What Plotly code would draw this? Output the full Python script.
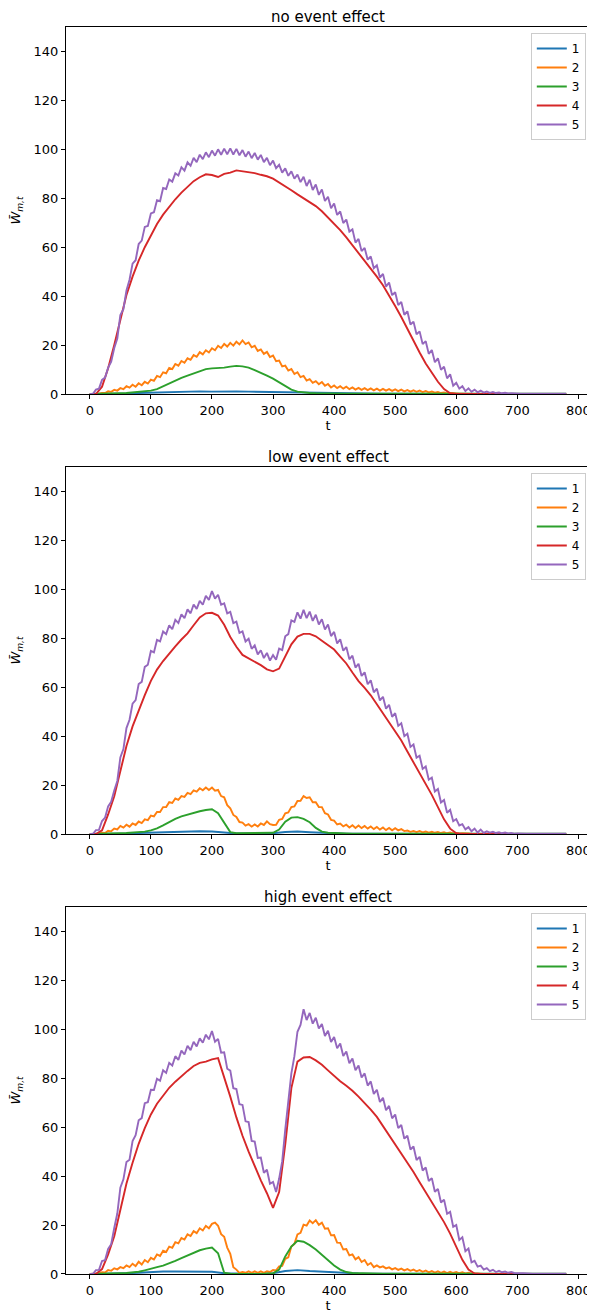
import plotly.graph_objects as go
from plotly.subplots import make_subplots

# time grids
t5 = list(range(0, 785, 5))
t10 = list(range(0, 790, 10))
t20 = list(range(0, 790, 20))

series_names = ['1', '2', '3', '4', '5']
colors = ['#1f77b4', '#ff7f0e', '#2ca02c', '#d62728', '#9467bd']
titles = ['no event effect', 'low event effect', 'high event effect']

# ---- no event effect ----
no_w1 = [0, 0, 0.1, 0.2, 0.4, 0.6, 0.8, 0.9, 1.0, 1.1, 1.0, 1.2, 1.1, 1.0, 0.9, 0.9, 0.7, 0.5, 0.4, 0.3,
         0.2, 0.2, 0.1, 0.1, 0.1, 0.1, 0.05, 0, 0, 0, 0, 0, 0, 0, 0, 0, 0, 0, 0, 0]
no_w2 = [0, 0, 0, 0.1, 0.4, 0.4, 1.1, 0.9, 1.7, 1.4, 2.4, 2.0, 3.2, 2.6, 3.8, 3.0, 4.4, 3.6, 5.0, 4.3,
         5.9, 5.4, 7.4, 6.9, 8.9, 8.5, 10.7, 10.2, 12.3, 11.6, 13.5, 12.8, 14.6, 14.0, 15.9, 15.2, 17.1, 16.2, 17.9, 17.0,
         18.7, 17.9, 19.7, 18.8, 20.5, 19.4, 20.9, 19.8, 21.4, 20.3, 21.9, 20.4, 21.1, 19.1, 19.7, 17.6, 18.2, 16.4, 17.2, 15.1,
         15.7, 13.4, 13.7, 11.3, 11.6, 9.6, 10.2, 8.2, 8.9, 6.9, 7.4, 5.5, 6.1, 4.6, 5.3, 4.0, 4.9, 3.4, 4.1, 2.7,
         3.5, 2.4, 3.2, 2.2, 3.0, 2.0, 2.7, 1.8, 2.5, 1.7, 2.4, 1.6, 2.3, 1.5, 2.2, 1.4, 2.1, 1.4, 2.0, 1.3,
         1.9, 1.2, 1.8, 1.1, 1.6, 1.0, 1.5, 0.9, 1.4, 0.8, 1.2, 0.7, 1.0, 0.6, 0.8, 0.4, 0.6, 0.3, 0.4, 0.2,
         0.3, 0.1, 0.15, 0.05, 0.1, 0, 0, 0, 0, 0, 0, 0, 0, 0, 0, 0, 0, 0, 0, 0,
         0, 0, 0, 0, 0, 0, 0, 0, 0, 0, 0, 0, 0, 0, 0, 0, 0]
no_w3 = [0, 0, 0, 0.1, 0.2, 0.3, 0.4, 0.6, 0.8, 1.1, 1.4, 2.0, 3.2, 4.5, 5.7, 6.6, 7.5, 8.5, 9.5, 10.2,
         10.5, 10.6, 10.8, 11.2, 11.5, 11.3, 10.8, 9.8, 8.5, 7.5, 6.3, 4.8, 3.2, 1.8, 1.0, 0.6, 0.4, 0.3, 0.2, 0.2,
         0.1, 0.1, 0.1, 0.1, 0.1, 0.1, 0.1, 0.1, 0.1, 0.1, 0.1, 0.1, 0.1, 0.1, 0.1, 0.1, 0.1, 0.1, 0.1, 0.1,
         0.1, 0.1, 0.1, 0.1, 0.1, 0.1, 0.1, 0.1, 0.1, 0.1, 0.1, 0.1, 0.1, 0.1, 0.1, 0.1, 0.1, 0.1, 0.1]
no_w4 = [0, 0, 3, 10.5, 20, 30.5, 40.5, 48, 54.5, 60, 65, 69.5, 73.3, 76.6, 79.6, 82.3, 84.8, 87, 88.6, 89.8,
         89.5, 88.7, 90, 90.5, 91.4, 91, 90.8, 90.3, 89.6, 89, 88, 86.5, 85, 83.3, 81.6, 80, 78.5, 76.8, 74.7, 72.2,
         69.5, 67, 64, 60.8, 57.6, 54.5, 51.4, 48, 44.5, 40.5, 36, 31.5, 26.5, 21.7, 17, 12.5, 8.5, 5, 2, 0.3,
         0, 0, 0, 0, 0, 0, 0, 0, 0, 0, 0, 0, 0, 0, 0, 0, 0, 0, 0]
no_w5 = [0, 0, 1.8, 2.2, 5.8, 6.7, 10.8, 13.2, 18.8, 22.7, 32.3, 34.7, 42.3, 46.7, 53.3, 54.7, 61.3, 62.7, 68.3, 68.7,
         73.8, 74.3, 79.2, 78.8, 84.2, 83.8, 87.7, 86.8, 90.2, 89.3, 92.7, 91.3, 94.7, 93.3, 96.5, 94.8, 97.8, 96.0, 98.8, 96.8,
         99.5, 97.4, 100.0, 97.8, 100.3, 98.0, 100.4, 97.9, 100.2, 97.6, 99.7, 97.0, 99.1, 96.4, 98.5, 95.8, 97.7, 94.8, 96.5, 93.5,
         95.4, 92.3, 93.7, 90.5, 92.2, 89.2, 91.0, 88.0, 89.7, 86.6, 88.8, 85.0, 87.6, 83.4, 85.6, 81.4, 83.6, 78.9, 80.6, 75.9,
         77.9, 73.2, 74.6, 69.9, 71.3, 66.4, 67.3, 61.9, 63.4, 58.4, 59.7, 54.9, 56.2, 51.4, 52.6, 47.6, 49.1, 43.9, 45.6, 40.4,
         41.6, 36.4, 37.6, 32.4, 33.8, 28.4, 29.6, 24.4, 25.6, 20.4, 21.6, 16.4, 18.0, 13.0, 14.6, 9.9, 11.2, 6.4, 8.1, 3.4,
         4.6, 2.2, 3.2, 1.2, 2.3, 0.9, 1.8, 0.7, 1.4, 0.6, 1.0, 0.5, 0.8, 0.4, 0.6, 0.3, 0.5, 0.25, 0.35, 0.2,
         0.25, 0.1, 0.1, 0.1, 0.1, 0.1, 0.1, 0.1, 0.1, 0.1, 0.1, 0.1, 0.1, 0.1, 0.1, 0.1, 0.1]

# ---- low event effect ----
low_w1 = [0, 0, 0.1, 0.2, 0.4, 0.6, 0.8, 0.9, 1.0, 1.1, 1.0, 0.6, 0.2, 0.2, 0.2, 0.3, 0.8, 1.0, 0.7, 0.4,
          0.2, 0.1, 0.1, 0.1, 0.1, 0.05, 0, 0, 0, 0, 0, 0, 0, 0, 0, 0, 0, 0, 0, 0]
low_w2 = [0, 0, 0, 0.1, 0.5, 0.4, 1.3, 1.1, 2.2, 1.9, 3.3, 2.6, 3.8, 3.0, 4.3, 3.7, 5.1, 4.5, 6.0, 5.7,
          7.5, 7.2, 9.0, 9.0, 11.0, 11.0, 13.0, 12.7, 14.5, 14.0, 15.5, 15.2, 16.8, 16.3, 17.8, 17.3, 18.7, 17.9, 19.0, 18.0,
          19.0, 17.7, 18.0, 15.5, 15.0, 11.8, 10.5, 7.8, 7.0, 4.9, 4.7, 3.4, 4.0, 3.0, 3.9, 3.1, 4.3, 3.7, 5.2, 4.0,
          3.7, 3.8, 5.8, 6.2, 8.5, 8.8, 11.0, 11.3, 13.5, 13.6, 15.5, 14.7, 15.0, 13.0, 13.0, 11.0, 11.0, 8.5, 8.0, 5.8,
          5.5, 3.9, 4.3, 3.1, 3.8, 2.7, 3.6, 2.5, 3.5, 2.4, 3.3, 2.2, 3.1, 2.0, 2.9, 1.8, 2.7, 1.6, 2.5, 1.5,
          2.4, 1.5, 2.0, 1.2, 1.4, 0.9, 1.2, 0.8, 1.2, 0.7, 1.0, 0.6, 0.9, 0.5, 0.8, 0.4, 0.7, 0.3, 0.6, 0.2,
          0.4, 0.15, 0.3, 0.1, 0.2, 0.05, 0.1, 0, 0, 0, 0, 0, 0, 0, 0, 0, 0, 0, 0, 0,
          0, 0, 0, 0, 0, 0, 0, 0, 0, 0, 0, 0, 0, 0, 0, 0, 0]
low_w3 = [0, 0, 0, 0.1, 0.2, 0.3, 0.4, 0.6, 0.8, 1.0, 1.5, 2.3, 3.5, 5, 6.2, 7.2, 8, 8.6, 9.3, 9.8,
          10.1, 8.5, 4.5, 0.8, 0.3, 0.3, 0.3, 0.3, 0.3, 0.4, 0.5, 1.8, 5, 6.7, 6.9, 6.2, 4.8, 2.5, 1.0, 0.5,
          0.3, 0.2, 0.2, 0.1, 0.1, 0.1, 0.1, 0.1, 0.1, 0.1, 0.1, 0.1, 0.1, 0.1, 0.1, 0.1, 0.1, 0.1, 0.1, 0.1,
          0.1, 0.1, 0.1, 0.1, 0.1, 0.1, 0.1, 0.1, 0.1, 0.1, 0.1, 0.1, 0.1, 0.1, 0.1, 0.1, 0.1, 0.1, 0.1]
low_w4 = [0, 0, 1.5, 8, 15.4, 26, 36, 44, 50.5, 56.8, 62.6, 67.2, 70.7, 73.8, 76.7, 79.5, 82, 85.3, 88.5, 90.2,
          90.4, 89.3, 85.5, 80.5, 76.5, 73.2, 71.8, 70.5, 69, 67.3, 66.5, 67.6, 72.5, 77.5, 80.7, 81.8, 81.8, 80.8, 79, 77.2,
          75.4, 72.5, 69.7, 66, 62.5, 59.7, 56.7, 53, 49.3, 45.5, 42, 38.2, 33.7, 29.3, 25, 20.8, 16, 11, 6, 2.2,
          0.3, 0, 0, 0, 0, 0, 0, 0, 0, 0, 0, 0, 0, 0, 0, 0, 0, 0, 0]
low_w5 = [0, 0, 1.6, 1.7, 5.3, 6.7, 11.3, 13.2, 17.8, 21.7, 31.3, 34.7, 43.3, 46.7, 53.3, 54.7, 61.3, 62.2, 68.3, 69.2,
          74.8, 74.2, 79.3, 78.7, 82.8, 81.7, 85.3, 83.7, 87.5, 86.2, 89.8, 88.2, 91.8, 90.2, 93.8, 92.0, 95.3, 93.7, 97.3, 95.7,
          99.3, 96.2, 97.8, 93.7, 94.3, 90.2, 90.8, 86.2, 86.8, 82.2, 82.8, 78.7, 79.8, 75.7, 77.1, 73.4, 75.1, 71.9, 74.0, 70.9,
          73.1, 71.2, 75.8, 75.2, 80.8, 81.7, 87.3, 86.7, 90.6, 88.0, 91.6, 88.2, 90.9, 87.1, 89.6, 85.6, 87.8, 83.6, 85.6, 80.9,
          82.6, 77.9, 79.6, 74.9, 76.4, 71.4, 72.9, 68.0, 69.6, 64.6, 66.1, 61.2, 62.8, 57.9, 59.4, 54.6, 56.1, 51.2, 52.8, 47.9,
          49.4, 44.2, 45.3, 40.0, 41.0, 35.6, 36.6, 31.2, 32.0, 26.6, 27.6, 22.2, 23.1, 17.4, 18.4, 12.9, 13.9, 8.7, 9.9, 5.2,
          6.1, 3.5, 4.0, 1.9, 2.8, 1.1, 2.2, 0.6, 1.8, 0.5, 1.1, 0.6, 0.9, 0.4, 0.7, 0.3, 0.6, 0.2, 0.4, 0.15,
          0.25, 0.1, 0.1, 0.1, 0.1, 0.1, 0.1, 0.1, 0.1, 0.1, 0.1, 0.1, 0.1, 0.1, 0.1, 0.1, 0.1]

# ---- high event effect ----
high_w1 = [0, 0, 0.1, 0.3, 0.5, 0.8, 1.0, 1.0, 1.0, 1.0, 0.9, 0.3, 0.1, 0.1, 0.1, 0.3, 1.2, 1.6, 1.2, 0.9,
           0.6, 0.4, 0.2, 0.1, 0.1, 0.1, 0.05, 0, 0, 0, 0, 0, 0, 0, 0, 0, 0, 0, 0, 0]
high_w2 = [0, 0, 0.1, 0.2, 0.7, 0.6, 1.6, 1.3, 2.3, 1.9, 2.8, 2.4, 3.5, 2.8, 4.2, 3.2, 5.0, 3.9, 5.7, 4.8,
           6.6, 5.9, 8.0, 7.4, 9.5, 9.0, 11.2, 10.7, 13.0, 12.5, 14.7, 14.1, 16.2, 15.5, 17.5, 16.7, 18.7, 17.8, 19.7, 18.7,
           20.5, 21.0, 19.7, 16.3, 15.2, 10.8, 8.2, 2.8, 1.8, 0.4, 0.8, 0.5, 1.1, 0.5, 1.1, 0.5, 1.1, 0.5, 1.1, 0.8,
           1.6, 1.5, 3.1, 3.3, 6.2, 6.8, 11.2, 12.3, 16.2, 16.8, 20.2, 19.8, 21.9, 20.8, 22.0, 20.1, 21.0, 18.5, 18.7, 15.8,
           15.9, 12.8, 12.7, 10.0, 10.2, 7.6, 8.0, 6.0, 6.9, 4.9, 5.7, 3.7, 4.5, 2.8, 3.5, 2.7, 3.1, 2.3, 2.7, 1.9,
           2.4, 1.7, 2.2, 1.5, 2.0, 1.3, 1.8, 1.1, 1.6, 0.9, 1.4, 0.7, 1.2, 0.6, 1.1, 0.5, 1.0, 0.4, 0.9, 0.4,
           0.8, 0.3, 0.7, 0.2, 0.5, 0.1, 0.2, 0.05, 0, 0, 0, 0, 0, 0, 0, 0, 0, 0, 0, 0,
           0, 0, 0, 0, 0, 0, 0, 0, 0, 0, 0, 0, 0, 0, 0, 0, 0]
high_w3 = [0, 0, 0, 0.1, 0.2, 0.3, 0.4, 0.6, 0.9, 1.5, 2.3, 2.8, 3.4, 4.3, 5.4, 6.5, 7.6, 8.7, 9.7, 10.4,
           10.8, 8.5, 0.5, 0.1, 0, 0, 0, 0, 0, 0.1, 0.3, 1.8, 7.2, 11.2, 13.6, 13.2, 11.8, 10, 7.8, 5.5,
           3.5, 1.8, 0.8, 0.4, 0.3, 0.2, 0.2, 0.1, 0.1, 0.1, 0.1, 0.1, 0.1, 0.1, 0.1, 0.1, 0.1, 0.1, 0.1, 0.1,
           0.1, 0.1, 0.1, 0.1, 0.1, 0.1, 0.1, 0.1, 0.1, 0.1, 0.1, 0.1, 0.1, 0.1, 0.1, 0.1, 0.1, 0.1, 0.1]
high_w4 = [0, 0, 2, 8, 15.4, 26.5, 37, 45.5, 53.2, 59.6, 65.2, 69.6, 73.1, 76.1, 78.6, 80.9, 83, 85, 86.3, 86.8,
           87.7, 88.2, 80.8, 72.5, 64, 56.5, 50, 44, 38.3, 33, 27, 33.5, 53, 76, 86.8, 88.5, 88.7, 87.3, 85.5, 83.2,
           80.8, 78.8, 76.9, 74.9, 72.5, 69.9, 67.2, 64.2, 60.5, 56.7, 53, 49.6, 45.8, 41.7, 37.5, 33.5, 29.6, 25.6, 21.2, 16.5,
           11.3, 5.8, 1.8, 0.2, 0, 0, 0, 0, 0, 0, 0, 0, 0, 0, 0, 0, 0, 0, 0]
high_w5 = [0, 0, 1.6, 1.7, 5.3, 5.7, 10.3, 12.2, 18.8, 24.7, 35.3, 38.7, 45.8, 46.7, 54.3, 56.7, 62.8, 63.7, 69.8, 70.2,
           75.3, 75.2, 79.8, 79.0, 83.3, 82.2, 86.3, 85.2, 89.0, 87.5, 91.3, 89.7, 93.3, 91.5, 94.9, 93.0, 96.3, 94.5, 97.8, 95.9,
           99.3, 94.9, 96.1, 90.4, 90.6, 83.9, 83.1, 75.9, 75.6, 69.4, 69.1, 62.4, 62.1, 54.4, 54.1, 47.4, 47.6, 41.4, 42.6, 36.9,
           37.6, 33.5, 39.0, 46.0, 59.0, 70.0, 82.0, 89.0, 99.0, 101.8, 108.2, 103.8, 106.7, 102.3, 104.7, 100.3, 102.2, 97.3, 99.4, 94.8,
           96.9, 92.3, 94.2, 89.1, 90.9, 86.1, 88.1, 83.3, 85.2, 80.3, 82.0, 77.0, 78.7, 73.6, 75.3, 70.3, 72.0, 66.9, 68.7, 63.6,
           65.2, 59.6, 60.9, 55.3, 56.5, 50.9, 52.1, 46.6, 47.9, 42.3, 43.5, 38.0, 39.2, 33.6, 34.8, 29.2, 30.4, 24.6, 25.4, 19.3,
           20.0, 13.9, 15.0, 9.3, 10.4, 4.8, 5.4, 3.0, 3.4, 1.8, 2.4, 1.2, 1.7, 0.8, 1.3, 0.7, 1.0, 0.5, 0.8, 0.4,
           0.5, 0.3, 0.35, 0.2, 0.25, 0.1, 0.1, 0.1, 0.1, 0.1, 0.1, 0.1, 0.1, 0.1, 0.1, 0.1, 0.1]

panels = [
    [no_w1, no_w2, no_w3, no_w4, no_w5],
    [low_w1, low_w2, low_w3, low_w4, low_w5],
    [high_w1, high_w2, high_w3, high_w4, high_w5],
]
grids = [t20, t5, t10, t10, t5]

fig = make_subplots(rows=3, cols=1, vertical_spacing=0.0585, subplot_titles=titles)

legend_names = ['legend', 'legend2', 'legend3']
legend_y = [0.9952, 0.6423, 0.2895]

for p, panel in enumerate(panels):
    for i, vals in enumerate(panel):
        fig.add_trace(go.Scatter(
            x=grids[i], y=vals, mode='lines', name=series_names[i],
            line=dict(color=colors[i], width=1.9),
            legend=legend_names[p], showlegend=True),
            row=p + 1, col=1)

legend_style = dict(
    x=0.992, xanchor='right', yanchor='top',
    bgcolor='rgba(255,255,255,0.8)', bordercolor='#cccccc', borderwidth=1,
    font=dict(size=12, color='black'), itemwidth=30, tracegroupgap=0,
)
# page body has an 8px margin, so the figure is drawn 8px smaller and offset
fig.update_layout(
    width=587, height=1308,
    margin=dict(l=58, r=5, t=19, b=42),
    plot_bgcolor='white', paper_bgcolor='white',
    font=dict(family='DejaVu Sans', size=13, color='black'),
    legend=dict(y=legend_y[0], **legend_style),
    legend2=dict(y=legend_y[1], **legend_style),
    legend3=dict(y=legend_y[2], **legend_style),
)
for ann in fig.layout.annotations:
    ann.font = dict(size=15, color='black', family='DejaVu Sans')
    ann.yshift = -1

fig.update_xaxes(range=[-39, 819], tickvals=list(range(0, 900, 100)),
                 showline=True, mirror=True, linecolor='black', linewidth=1,
                 ticks='outside', ticklen=4, tickcolor='black', showgrid=False, zeroline=False,
                 title=dict(text='t', standoff=2, font=dict(size=13)), automargin=False,
                 tickfont=dict(size=13))
fig.update_yaxes(range=[0, 150], tickvals=list(range(0, 160, 20)),
                 showline=True, mirror=True, linecolor='black', linewidth=1,
                 ticks='outside', ticklen=4, tickcolor='black', showgrid=False, zeroline=False,
                 title=dict(text='<i>W̄</i><sub><i>m,t</i></sub>', standoff=12, font=dict(size=13)),
                 automargin=False, tickfont=dict(size=13))

fig.write_html("out.html")
